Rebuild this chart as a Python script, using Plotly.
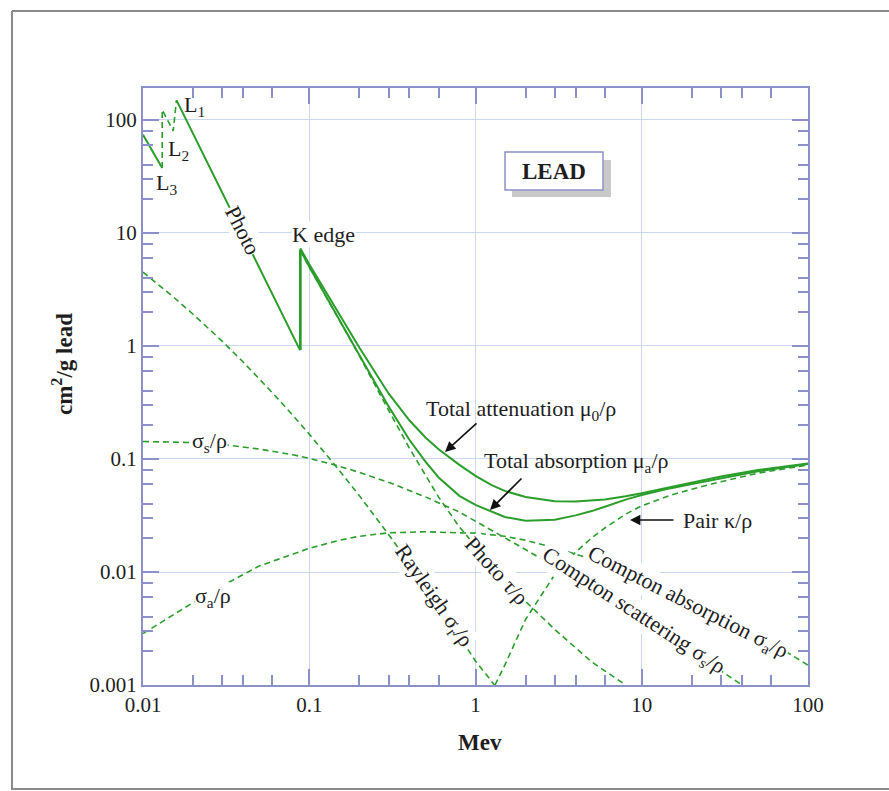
import plotly.graph_objects as go

# ---- Mass coefficients for lead (cm^2/g) versus photon energy (MeV) ----
# Photoelectric below the K edge, including the L edges
photo_low_E = [0.01, 0.01305]
photo_low_v = [74.0, 37.6]
l_edge_E = [0.01305, 0.01305, 0.0152, 0.0159]
l_edge_v = [37.6, 123.0, 80.0, 150.0]
photo_mid_E = [0.0159, 0.02, 0.03, 0.04, 0.05, 0.06, 0.08, 0.088, 0.088]
photo_mid_v = [150.0, 75.7, 22.6, 9.6, 4.95, 2.88, 1.22, 0.92, 7.0]

# Photoelectric tau/rho above the K edge
photo_E = [0.088, 0.1, 0.15, 0.2, 0.3, 0.4, 0.5, 0.6, 0.8, 1.0, 1.5, 2, 3, 5, 8]
photo_v = [7.0, 5.0, 1.75, 0.82, 0.27, 0.125, 0.072, 0.046, 0.025, 0.017,
           0.0085, 0.0055, 0.0031, 0.0016, 0.001]

# Total attenuation mu0/rho
total_E = [0.0884, 0.0884, 0.1, 0.15, 0.2, 0.3, 0.4, 0.5, 0.6, 0.8, 1.0, 1.25, 1.5,
           2, 3, 4, 5, 6, 8, 10, 15, 20, 30, 50, 100]
total_v = [0.92, 7.3, 5.3, 1.95, 0.97, 0.38, 0.22, 0.155, 0.122, 0.0887, 0.0710,
           0.0588, 0.0522, 0.0461, 0.0423, 0.0420, 0.0427, 0.0439, 0.0468, 0.0497,
           0.0566, 0.0621, 0.0700, 0.0798, 0.0912]

# Total absorption mua/rho
absorb_E = [0.0886, 0.0886, 0.1, 0.15, 0.2, 0.3, 0.4, 0.5, 0.6, 0.8, 1.0, 1.25, 1.5,
            2, 3, 4, 5, 6, 8, 10, 15, 20, 30, 50, 100]
absorb_v = [0.92, 7.02, 5.02, 1.77, 0.841, 0.292, 0.148, 0.0947, 0.0686, 0.0472,
            0.0392, 0.0340, 0.0307, 0.0284, 0.0290, 0.0317, 0.0346, 0.0378, 0.0437,
            0.0480, 0.0552, 0.0599, 0.0671, 0.0778, 0.0905]

# Rayleigh (coherent) sigma_r/rho
rayleigh_E = [0.01, 0.015, 0.02, 0.03, 0.04, 0.05, 0.06, 0.08, 0.1, 0.15, 0.2,
              0.3, 0.4, 0.5, 0.6, 0.8, 1.0, 1.3]
rayleigh_v = [4.50, 2.77, 1.91, 1.10, 0.722, 0.514, 0.386, 0.242, 0.166, 0.0808,
              0.0474, 0.0215, 0.0120, 0.0075, 0.0051, 0.0027, 0.00163, 0.001]

# Compton scattering sigma_s/rho
comp_s_E = [0.01, 0.02, 0.03, 0.05, 0.08, 0.1, 0.15, 0.2, 0.3, 0.5, 0.8, 1.0,
            1.5, 2, 3, 5, 10, 20, 40]
comp_s_v = [0.143, 0.1395, 0.1347, 0.1225, 0.1089, 0.1012, 0.0867, 0.0761,
            0.0622, 0.0462, 0.0339, 0.0282, 0.0200, 0.0158, 0.0111, 0.0070,
            0.0038, 0.0020, 0.0010]

# Compton absorption sigma_a/rho
comp_a_E = [0.01, 0.02, 0.03, 0.05, 0.08, 0.1, 0.15, 0.2, 0.3, 0.5, 0.8, 1.0,
            1.5, 2, 3, 5, 10, 20, 50, 100]
comp_a_v = [0.00285, 0.00536, 0.00755, 0.0113, 0.0144, 0.0162, 0.0190, 0.0207,
            0.0222, 0.0227, 0.0222, 0.0221, 0.0207, 0.0191, 0.0164, 0.0130,
            0.0087, 0.0055, 0.0028, 0.0015]

# Pair production kappa/rho
pair_E = [1.31, 1.5, 2, 3, 4, 5, 6, 8, 10, 15, 20, 30, 50, 100]
pair_v = [0.001, 0.0015, 0.0038, 0.0095, 0.0150, 0.0200, 0.0245, 0.0325,
          0.0385, 0.0480, 0.0540, 0.0630, 0.0750, 0.0885]

x_ticks = [0.01, 0.1, 1, 10, 100]
x_ticktext = ["0.01", "0.1", "1", "10", "100"]
y_ticks = [0.001, 0.01, 0.1, 1, 10, 100]
y_ticktext = ["0.001", "0.01", "0.1", "1", "10", "100"]
x_minor = [m * d for d in [0.01, 0.1, 1, 10] for m in (2, 3, 4, 6)]
y_minor = [m * d for d in [0.001, 0.01, 0.1, 1, 10, 100] for m in (2, 3, 4, 6, 8)]

GREEN = "#2a9d2a"
AXIS = "#8c90c8"
GRID = "#c9d7f2"
TEXT = "#1e1e1e"
FONT = "Liberation Serif, Times New Roman, serif"

fig = go.Figure()


def dashed(E, v):
    fig.add_trace(go.Scatter(x=E, y=v, mode="lines", hoverinfo="skip",
                             line=dict(color=GREEN, width=1.6, dash="6px,4px")))


def solid(E, v, w=2.0):
    fig.add_trace(go.Scatter(x=E, y=v, mode="lines", hoverinfo="skip",
                             line=dict(color=GREEN, width=w)))


dashed(rayleigh_E, rayleigh_v)
dashed(comp_s_E, comp_s_v)
dashed(comp_a_E, comp_a_v)
dashed(pair_E, pair_v)
dashed(photo_E, photo_v)
dashed(l_edge_E, l_edge_v)
solid(photo_low_E, photo_low_v)
solid(photo_mid_E, photo_mid_v)
solid(total_E, total_v)
solid(absorb_E, absorb_v)

# plot area in pixels: x 143..808, y 88..685
L, R, T, B = 143, 808, 88, 685


def px(x):
    return (x - L) / (R - L)


def py(y):
    return (B - y) / (B - T)


def label(text, x, y, angle=0, size=22, xanchor="center", bg="white", bold=False):
    fig.add_annotation(text=f"<b>{text}</b>" if bold else text,
                       x=px(x), y=py(y), xref="paper", yref="paper",
                       showarrow=False, textangle=angle, xanchor=xanchor,
                       yanchor="middle", bgcolor=bg, borderpad=0,
                       font=dict(family=FONT, size=size, color=TEXT))


def arrow(hx, hy, tx, ty):
    fig.add_annotation(text="", x=px(hx), y=py(hy), xref="paper", yref="paper",
                       showarrow=True, ax=tx - hx, ay=ty - hy, arrowhead=2,
                       arrowsize=1.3, arrowwidth=1.6, arrowcolor="#111",
                       standoff=0, font=dict(family=FONT, size=12))


label("L<sub>1</sub>", 183, 106, xanchor="left", bg=None)
label("L<sub>2</sub>", 167, 150, xanchor="left", bg=None)
label("L<sub>3</sub>", 155, 184, xanchor="left", bg=None)
label("Photo", 242, 230, angle=63)
label("K edge", 323, 235)
label("Total attenuation μ<sub>0</sub>/ρ", 425, 410, xanchor="left", bg=None)
label("Total absorption μ<sub>a</sub>/ρ", 483, 462, xanchor="left", bg=None)
label("Pair κ/ρ", 682, 520, xanchor="left", bg=None)
label("σ<sub>s</sub>/ρ", 209, 442)
label("σ<sub>a</sub>/ρ", 213, 597)
label("Rayleigh σ<sub>r</sub>/ρ", 433, 596, angle=55)
label("Photo τ/ρ", 497, 570, angle=48)
label("Compton absorption σ<sub>a</sub>/ρ", 688, 603, angle=27)
label("Compton scattering σ<sub>s</sub>/ρ", 633, 611, angle=33)

arrow(445, 452, 478, 422)
arrow(490, 510, 523, 477)
arrow(630, 520, 675, 520)

# LEAD title box with drop shadow
fig.add_shape(type="rect", xref="paper", yref="paper",
              x0=px(512), x1=px(611), y0=py(197), y1=py(160),
              fillcolor="#c9c9c9", line=dict(width=0))
fig.add_shape(type="rect", xref="paper", yref="paper",
              x0=px(505), x1=px(603), y0=py(190), y1=py(152),
              fillcolor="white", line=dict(color=AXIS, width=1.5))
label("LEAD", 554, 171, size=23, bold=True, bg=None)

# axis titles
label("Mev", 480, 742, size=23, bold=True, bg=None)
label("cm<sup>2</sup>/g lead", 62, 364, angle=-90, size=23, bold=True, bg=None)

# outer frame
for x0, y0, x1, y1 in [(12, 11, 12, 790), (12, 11, 889, 11), (12, 789, 889, 789)]:
    fig.add_shape(type="line", xref="paper", yref="paper",
                  x0=px(x0), y0=py(y0), x1=px(x1), y1=py(y1),
                  line=dict(color="#8a8a8a", width=2))

axis_common = dict(
    type="log", ticks="inside", ticklen=16, tickwidth=1.5, tickcolor=AXIS,
    showline=True, linecolor=AXIS, linewidth=2, mirror="ticks",
    showgrid=True, gridcolor=GRID, gridwidth=1.2, zeroline=False,
    tickfont=dict(family=FONT, size=21, color=TEXT), tickmode="array",
)

fig.update_layout(
    width=889, height=791,
    margin=dict(l=L, r=889 - R, t=T, b=791 - B),
    plot_bgcolor="white", paper_bgcolor="white", showlegend=False,
    font=dict(family=FONT, color=TEXT, size=21),
    xaxis=dict(axis_common, range=[-2, 2], tickvals=x_ticks, ticktext=x_ticktext,
               minor=dict(tickmode="array", tickvals=x_minor, ticks="inside",
                          ticklen=10, tickwidth=1.5, tickcolor=AXIS, showgrid=False)),
    yaxis=dict(axis_common, range=[-3, 2.283], tickvals=y_ticks, ticktext=y_ticktext,
               minor=dict(tickmode="array", tickvals=y_minor, ticks="inside",
                          ticklen=10, tickwidth=1.5, tickcolor=AXIS, showgrid=False)),
)

fig.write_html("out.html")
